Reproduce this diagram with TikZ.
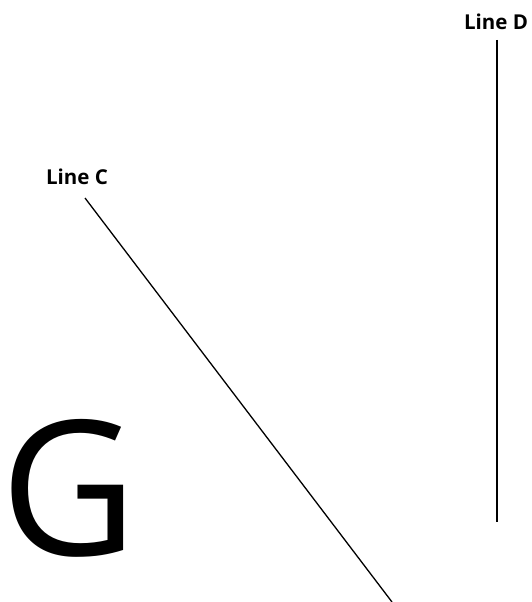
\documentclass[tikz,border=0pt]{standalone}
\usepackage{fontspec}
\setmainfont{Open Sans}
\usetikzlibrary{positioning}

\begin{document}
\begin{tikzpicture}[
    x=1pt, y=-1pt,
    label/.style={font=\fontsize{20.5}{22}\selectfont\bfseries, inner sep=0pt},
    bigletter/.style={font=\fontsize{188}{190}\selectfont, inner sep=0pt, anchor=base west},
    line/.style={line width=1.3pt, black}
]
\useasboundingbox (0,0) rectangle (531,602);

\node[label] (labD) at (496,22) {Line D};
\node[label] (labC) at (77,177) {Line C};
\node[bigletter] (bigG) at (0,555) {G};

\coordinate (dTop) at (497,40);
\coordinate (dBot) at (497,522);
\coordinate (cTop) at (85,198);
\coordinate (cBot) at (392,602);

\draw[line] (dTop) -- (dBot);
\draw[line] (cTop) -- (cBot);

\end{tikzpicture}
\end{document}
